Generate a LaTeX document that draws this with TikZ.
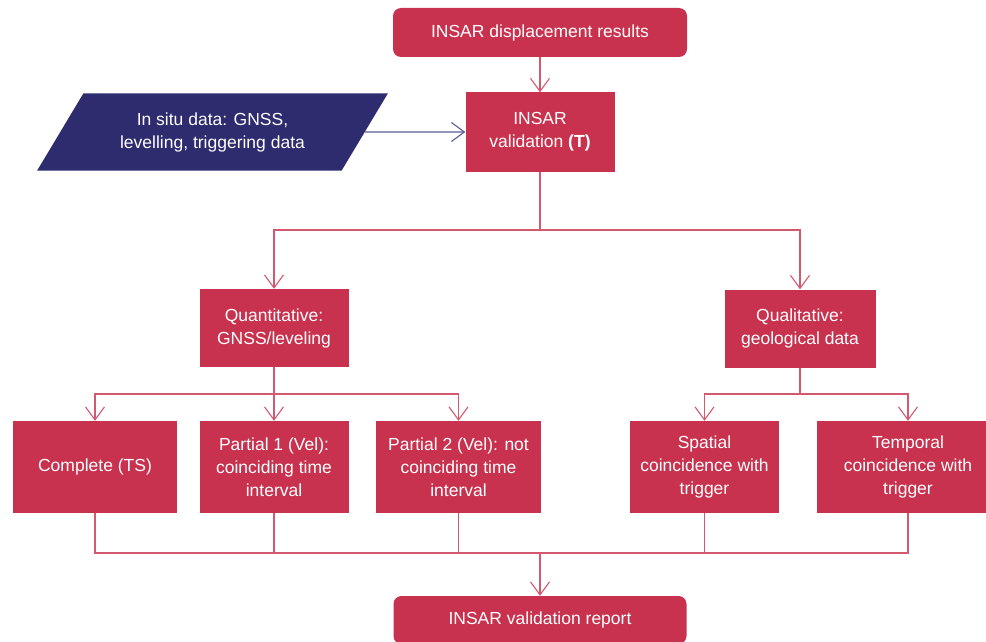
\documentclass[tikz,border=0pt]{standalone}
\usepackage{fontspec}
\setmainfont{Liberation Sans}
\usetikzlibrary{arrows.meta,shapes.geometric}
\definecolor{boxred}{RGB}{200,50,78}
\definecolor{linered}{RGB}{212,88,112}
\definecolor{navyfill}{RGB}{46,43,110}
\definecolor{navyline}{RGB}{90,90,150}
\begin{document}
\begin{tikzpicture}[x=1pt,y=-1pt,
  box/.style={fill=boxred, text=white, font=\fontsize{17.5}{23}\selectfont, align=center, inner sep=0pt, minimum height=78pt},
  rbox/.style={box, rounded corners=8pt},
  conn/.style={draw=linered, line width=1.1pt},
  arr/.style={conn, -{Straight Barb[length=13pt,width=19pt]}}]
\useasboundingbox (0,0) rectangle (986,642);
\clip (0,0) rectangle (986,642);
\node[rbox, minimum width=294pt, minimum height=49pt] (top) at (540,32.5) {INSAR displacement results};
\node[box, minimum width=149pt, minimum height=79pt] (val) at (540,132) {INSAR\\validation \textbf{(T)}};
\node[trapezium, trapezium left angle=50, trapezium right angle=130, trapezium stretches=true,
      fill=navyfill, text=white, minimum width=351pt, minimum height=77pt, inner sep=0pt,
      align=center, font=\fontsize{17.5}{23}\selectfont] (insitu) at (212.5,132) {In situ data: GNSS,\\levelling, triggering data};
\node[box, minimum width=149pt] (quant) at (274,328) {Quantitative:\\GNSS/leveling};
\node[box, minimum width=151pt] (qual) at (800,328.5) {Qualitative:\\geological data};
\node[box, minimum width=164pt, minimum height=92pt] (comp) at (95,467) {Complete (TS)};
\node[box, minimum width=149pt, minimum height=92pt] (p1) at (274,467) {Partial 1 (Vel):\\coinciding time\\interval};
\node[box, minimum width=165pt, minimum height=92pt] (p2) at (458.5,467) {Partial 2 (Vel): not\\coinciding time\\interval};
\node[box, minimum width=149pt, minimum height=92pt] (spat) at (704.5,467) {Spatial\\coincidence with\\trigger};
\node[box, minimum width=182pt, minimum height=92pt] (temp) at (908,467) {Temporal\\coincidence with\\trigger};
\node[rbox, minimum width=293pt, minimum height=48pt] (rep) at (540,620) {INSAR validation report};
\coordinate (j1) at (540,230);
\coordinate (j2) at (274,394);
\coordinate (j3) at (800,394);
\coordinate (j4) at (540,553);
\draw[arr] (top.south) -- (val.north);
\draw[arr, draw=navyline] (insitu.east) -- (val.west);
\draw[conn] (val.south) -- (j1);
\draw[arr] (j1) -| (quant.north);
\draw[arr] (j1) -| (qual.north);
\draw[conn] (quant.south) -- (j2);
\draw[arr] (j2) -| (comp.north);
\draw[arr] (j2) -- (p1.north);
\draw[arr] (j2) -| (p2.north);
\draw[conn] (qual.south) -- (j3);
\draw[arr] (j3) -| (spat.north);
\draw[arr] (j3) -| (temp.north);
\foreach \n in {comp,p1,p2,spat,temp} \draw[conn] (\n.south) |- (j4);
\draw[arr] (j4) -- (rep.north);
\end{tikzpicture}
\end{document}
